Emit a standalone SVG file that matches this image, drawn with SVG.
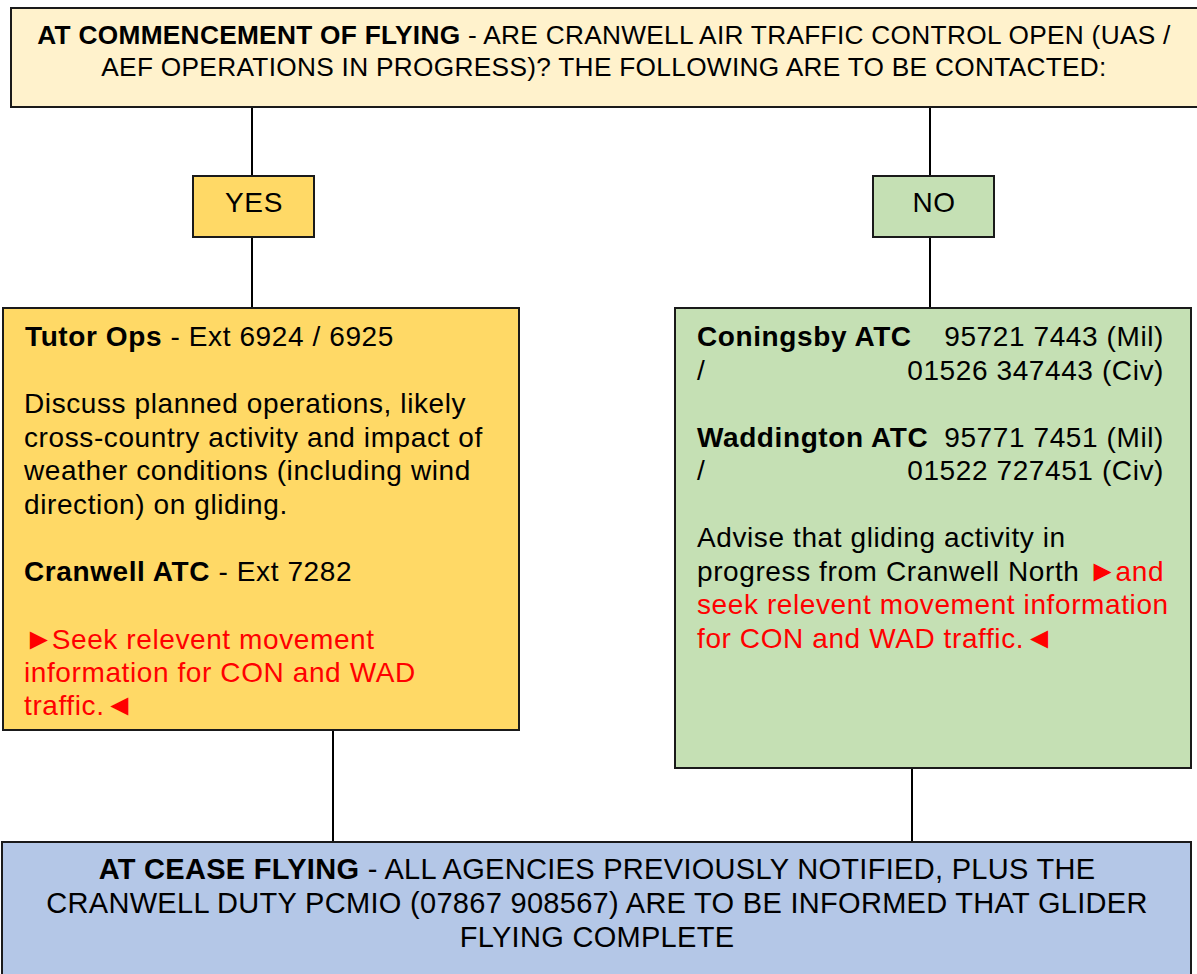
<svg xmlns="http://www.w3.org/2000/svg" width="1197" height="974" viewBox="0 0 1197 974">
<style>
text{font-family:"Liberation Sans",Arial,sans-serif;fill:#000;}
.box{stroke:#1a1a1a;stroke-width:2;}
.top{font-size:26.25px;letter-spacing:0.3px;}
.body{font-size:28px;letter-spacing:0.6px;}
.bot{font-size:29px;letter-spacing:0.3px;}
.b{font-weight:bold;}
.red{fill:#FF0000;}
.sym{font-size:30px;letter-spacing:-2px;}
.conn line{stroke:#000;stroke-width:2;}
</style>
<rect width="1197" height="974" fill="#fff"/>
<g class="conn" id="connectors">
<line x1="252" y1="107" x2="252" y2="176"/>
<line x1="252" y1="237" x2="252" y2="308"/>
<line x1="930" y1="107" x2="930" y2="176"/>
<line x1="930" y1="237" x2="930" y2="308"/>
<line x1="333" y1="730" x2="333" y2="842"/>
<line x1="912" y1="768" x2="912" y2="842"/>
</g>
<g id="start">
<rect class="box" x="11" y="8" width="1192" height="99" fill="#FFF2CC"/>
<text class="top" x="604" y="44" text-anchor="middle"><tspan class="b">AT COMMENCEMENT OF FLYING</tspan> - ARE CRANWELL AIR TRAFFIC CONTROL OPEN (UAS /</text>
<text class="top" x="604" y="76" text-anchor="middle">AEF OPERATIONS IN PROGRESS)? THE FOLLOWING ARE TO BE CONTACTED:</text>
</g>
<g id="yes">
<rect class="box" x="193" y="176" width="121" height="61" fill="#FFD966"/>
<text class="body" x="254" y="212" text-anchor="middle">YES</text>
</g>
<g id="no">
<rect class="box" x="873" y="176" width="121" height="61" fill="#C5E0B4"/>
<text class="body" x="934" y="212" text-anchor="middle">NO</text>
</g>
<g id="yes-actions">
<rect class="box" x="3" y="308" width="516" height="422" fill="#FFD966"/>
<text class="body" x="25" y="345.5"><tspan class="b">Tutor Ops</tspan> - Ext 6924 / 6925</text>
<text class="body" x="24" y="413">Discuss planned operations, likely</text>
<text class="body" x="24" y="446.5">cross-country activity and impact of</text>
<text class="body" x="24" y="480">weather conditions (including wind</text>
<text class="body" x="24" y="513.5">direction) on gliding.</text>
<text class="body" x="24" y="580.5"><tspan class="b">Cranwell ATC</tspan> - Ext 7282</text>
<text class="body red" x="24" y="648.5"><tspan class="sym">►</tspan>Seek relevent movement</text>
<text class="body red" x="24" y="681.5">information for CON and WAD</text>
<text class="body red" x="24" y="715">traffic.<tspan class="sym">◄</tspan></text>
</g>
<g id="no-actions">
<rect class="box" x="675" y="308" width="516" height="460" fill="#C5E0B4"/>
<text class="body b" x="697" y="345.5">Coningsby ATC</text>
<text class="body" x="1164" y="345.5" text-anchor="end">95721 7443 (Mil)</text>
<text class="body" x="697" y="379.5">/</text>
<text class="body" x="1164" y="379.5" text-anchor="end">01526 347443 (Civ)</text>
<text class="body b" x="697" y="446.5">Waddington ATC</text>
<text class="body" x="1164" y="446.5" text-anchor="end">95771 7451 (Mil)</text>
<text class="body" x="697" y="480">/</text>
<text class="body" x="1164" y="480" text-anchor="end">01522 727451 (Civ)</text>
<text class="body" x="697" y="547">Advise that gliding activity in</text>
<text class="body" x="697" y="580.5">progress from Cranwell North <tspan class="red"><tspan class="sym">►</tspan>and</tspan></text>
<text class="body red" x="697" y="614">seek relevent movement information</text>
<text class="body red" x="697" y="647.5">for CON and WAD traffic.<tspan class="sym">◄</tspan></text>
</g>
<g id="cease">
<rect class="box" x="2" y="842" width="1189" height="140" fill="#B4C7E7"/>
<text class="bot" x="597" y="879" text-anchor="middle"><tspan class="b">AT CEASE FLYING</tspan> - ALL AGENCIES PREVIOUSLY NOTIFIED, PLUS THE</text>
<text class="bot" x="597" y="913" text-anchor="middle">CRANWELL DUTY PCMIO (07867 908567) ARE TO BE INFORMED THAT GLIDER</text>
<text class="bot" x="597" y="947" text-anchor="middle">FLYING COMPLETE</text>
</g>
</svg>
